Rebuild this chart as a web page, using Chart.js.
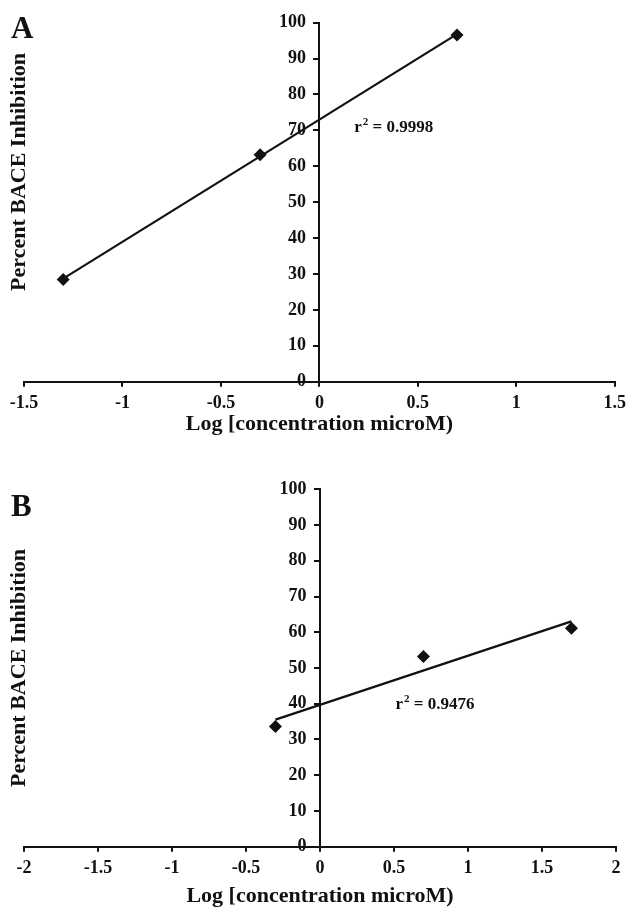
<!DOCTYPE html>
<html>
<head>
<meta charset="utf-8">
<script src="https://cdn.jsdelivr.net/npm/chart.js@4.4.1/dist/chart.umd.min.js"></script>
<style>
  html, body { margin: 0; padding: 0; background: #fff; }
  body { width: 632px; height: 910px; position: relative; overflow: hidden; }
  .panel { position: absolute; left: 0; width: 632px; }
  #panelA { top: 0; height: 445px; }
  #panelB { top: 445px; height: 465px; }
  .letter {
    position: absolute; left: 11px;
    font: bold 31px "Liberation Serif", "Times New Roman", serif;
    color: #111; line-height: 1;
  }
</style>
</head>
<body>
<div class="panel" id="panelA"><canvas id="chartA"></canvas></div>
<div class="panel" id="panelB"><canvas id="chartB"></canvas></div>
<div class="letter" style="top:12px">A</div>
<div class="letter" style="top:490px">B</div>
<script>
// ── Дані ─────────────────────────────────────────────────
const logConcA = [-1.301, -0.301, 0.699];
const inhibA   = [28.5, 63.2, 96.6];
const r2A      = '0.9998';

const logConcB = [-0.301, 0.699, 1.699];
const inhibB   = [33.6, 53.2, 61.1];
const r2B      = '0.9476';

const xTicksA = [-1.5, -1, -0.5, 0, 0.5, 1, 1.5];
const xTicksB = [-2, -1.5, -1, -0.5, 0, 0.5, 1, 1.5, 2];
const yTicks  = [0, 10, 20, 30, 40, 50, 60, 70, 80, 90, 100];

const yTitle = 'Percent BACE Inhibition';
const xTitle = 'Log [concentration microM)';

// ── Допоміжні ────────────────────────────────────────────
const SERIF = '"Liberation Serif", "Times New Roman", serif';
const INK = '#111';

/** Лінійна регресія (найменші квадрати) — лінія тренду від першої до останньої точки. */
function trendLine(xs, ys) {
    const n = xs.length;
    const mx = xs.reduce((a, b) => a + b, 0) / n;
    const my = ys.reduce((a, b) => a + b, 0) / n;
    let sxy = 0, sxx = 0;
    xs.forEach((x, i) => { sxy += (x - mx) * (ys[i] - my); sxx += (x - mx) ** 2; });
    const slope = sxy / sxx;
    const x0 = Math.min(...xs), x1 = Math.max(...xs);
    return [
        { x: x0, y: my + slope * (x0 - mx) },
        { x: x1, y: my + slope * (x1 - mx) }
    ];
}

/** Підпис r² у координатах даних. */
const r2Label = {
    id: 'r2Label',
    afterDatasetsDraw(chart, args, opts) {
        const { ctx, scales } = chart;
        let px = scales.x.getPixelForValue(opts.at[0]);
        const py = scales.y.getPixelForValue(opts.at[1]);
        ctx.save();
        ctx.fillStyle = INK;
        ctx.textAlign = 'left';
        ctx.textBaseline = 'alphabetic';
        ctx.font = 'bold 17px ' + SERIF;
        ctx.fillText('r', px, py);
        px += ctx.measureText('r').width + 1;
        ctx.font = 'bold 11px ' + SERIF;
        ctx.fillText('2', px, py - 7);
        px += ctx.measureText('2').width;
        ctx.font = 'bold 17px ' + SERIF;
        ctx.fillText(' = ' + opts.value, px, py);
        ctx.restore();
    }
};

function makeChart(canvasId, xs, ys, xTicks, r2, r2At, pad, canvasH, titlePad, titleLift) {
    const axisLine = { display: true, color: INK, width: 2 };
    const tickFont = { family: SERIF, size: 18, weight: 'bold' };

    return new Chart(document.getElementById(canvasId), {
        type: 'scatter',
        data: {
            datasets: [
                {
                    data: xs.map((x, i) => ({ x, y: ys[i] })),
                    pointStyle: 'rectRot',
                    pointRadius: 6.5,
                    backgroundColor: INK,
                    borderColor: INK,
                    borderWidth: 0,
                    showLine: false
                },
                {
                    data: trendLine(xs, ys),
                    showLine: true,
                    borderColor: INK,
                    borderWidth: 2.2,
                    pointRadius: 0
                }
            ]
        },
        options: {
            responsive: true,
            maintainAspectRatio: false,
            animation: false,
            layout: { padding: { top: pad.top, right: 16, left: 0, bottom: 0 } },
            plugins: {
                legend: { display: false },
                tooltip: { enabled: false },
                r2Label: { at: r2At, value: r2 }
            },
            scales: {
                x: {
                    type: 'linear',
                    position: 'bottom',
                    min: xTicks[0],
                    max: xTicks[xTicks.length - 1],
                    afterBuildTicks: s => { s.ticks = xTicks.map(v => ({ value: v })); },
                    afterFit: s => { s.height = canvasH - pad.axisY; },
                    border: axisLine,
                    grid: { drawOnChartArea: false, drawTicks: true, tickLength: 5, color: INK, lineWidth: 2 },
                    ticks: {
                        color: INK, font: tickFont, padding: 6, maxRotation: 0, autoSkip: false,
                        callback: v => String(v)
                    },
                    title: {
                        display: true, text: xTitle, color: INK,
                        font: { family: SERIF, size: 22, weight: 'bold' },
                        padding: { top: 0, bottom: titlePad }
                    }
                },
                y: {
                    type: 'linear',
                    position: { x: 0 },
                    min: 0,
                    max: 100,
                    afterBuildTicks: s => { s.ticks = yTicks.map(v => ({ value: v })); },
                    afterFit: s => { s.width = 0; },
                    border: axisLine,
                    grid: { drawOnChartArea: false, drawTicks: true, tickLength: 5, color: INK, lineWidth: 2 },
                    // підписи вирівнюються по самій осі — відступ додаємо пробілами
                    ticks: { color: INK, font: tickFont, callback: v => String(v) + '\u00a0\u00a0\u00a0' }
                },
                yTitle: {
                    type: 'linear',
                    axis: 'y',
                    position: 'left',
                    min: 0,
                    max: 100,
                    afterFit: s => { s.width = 24; },
                    border: { display: false },
                    grid: { display: false },
                    ticks: { display: false },
                    title: {
                        display: true,
                        // пробіли на початку зсувають центрований підпис угору
                        text: '\u00a0'.repeat(titleLift) + yTitle,
                        color: INK,
                        font: { family: SERIF, size: 22, weight: 'bold' },
                        padding: { top: 6, bottom: 0 }
                    }
                }
            }
        },
        plugins: [r2Label]
    });
}

makeChart('chartA', logConcA, inhibA, xTicksA, r2A, [0.177, 69.6],
          { top: 22.7, axisY: 381.7 }, 445, 7, 11);
makeChart('chartB', logConcB, inhibB, xTicksB, r2B, [0.51, 38.4],
          { top: 44.3, axisY: 401.7 }, 465, 0, 0);
</script>
</body>
</html>
